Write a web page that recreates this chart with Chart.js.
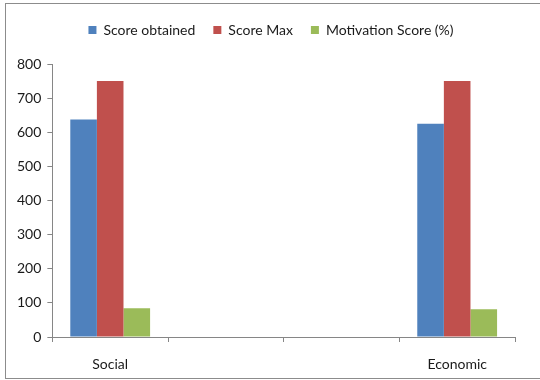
<!DOCTYPE html>
<html>
<head>
<meta charset="utf-8">
<script src="https://cdn.jsdelivr.net/npm/chart.js@4/dist/chart.umd.min.js"></script>
<style>
  html, body { margin: 0; padding: 0; background: #fff; }
  #frame {
    position: absolute; left: 5px; top: 3px; width: 540px; height: 376px;
    border: 1px solid #8c8c8c; box-sizing: border-box;
  }
  #wrap { position: absolute; left: 0; top: 0; width: 540px; height: 380px; }
</style>
</head>
<body>
<div id="frame"></div>
<div id="wrap"><canvas id="chart" width="540" height="380"></canvas></div>
<script>
// categories (the two middle slots are empty in the original)
const categories = ['Social', '', '', 'Economic'];
const scoreObtained = [637, null, null, 625];
const scoreMax = [750, null, null, 750];
const motivationScore = [84, null, null, 81];
const yTicks = [0, 100, 200, 300, 400, 500, 600, 700, 800];

document.addEventListener('DOMContentLoaded', () => {
    const ctx = document.getElementById('chart').getContext('2d');
    const axisColor = '#868686';
    const textColor = '#1a1a1a';
    const font = { family: 'Lato, "Liberation Sans", sans-serif', size: 14 };

    // extra room under the legend, and centre it on the whole frame
    const legendMargin = {
        id: 'legendMargin',
        beforeInit(chart) {
            const fit = chart.legend.fit;
            chart.legend.fit = function () {
                fit.bind(chart.legend)();
                this.height += 17;
            };
        },
        afterLayout(chart) {
            chart.legend.left += 8;
            chart.legend.right += 8;
        }
    };

    new Chart(ctx, {
        type: 'bar',
        data: {
            labels: categories,
            datasets: [
                { label: 'Score obtained', data: scoreObtained, backgroundColor: '#4F81BD' },
                { label: 'Score Max', data: scoreMax, backgroundColor: '#C0504D' },
                { label: 'Motivation Score (%)', data: motivationScore, backgroundColor: '#9BBB59' }
            ]
        },
        options: {
            responsive: false,
            animation: false,
            datasets: { bar: { categoryPercentage: 0.69, barPercentage: 1.0 } },
            layout: { padding: { top: 5, right: 25, left: 11, bottom: 0 } },
            plugins: {
                legend: {
                    position: 'top',
                    labels: {
                        boxWidth: 8, boxHeight: 8, padding: 18,
                        color: textColor, font: font
                    }
                },
                tooltip: { enabled: false }
            },
            scales: {
                x: {
                    afterFit: axis => { axis.height = 43; },
                    grid: {
                        display: true, drawOnChartArea: false, drawTicks: true,
                        tickLength: 5, color: axisColor, offset: true
                    },
                    border: { color: axisColor },
                    ticks: { color: textColor, font: font, padding: 14 }
                },
                y: {
                    min: 0, max: 800,
                    afterBuildTicks: axis => { axis.ticks = yTicks.map(v => ({ value: v })); },
                    grid: {
                        display: true, drawOnChartArea: false, drawTicks: true,
                        tickLength: 5, color: axisColor
                    },
                    border: { color: axisColor },
                    ticks: { color: textColor, font: font, padding: 6 }
                }
            }
        },
        plugins: [legendMargin]
    });
});
</script>
</body>
</html>
